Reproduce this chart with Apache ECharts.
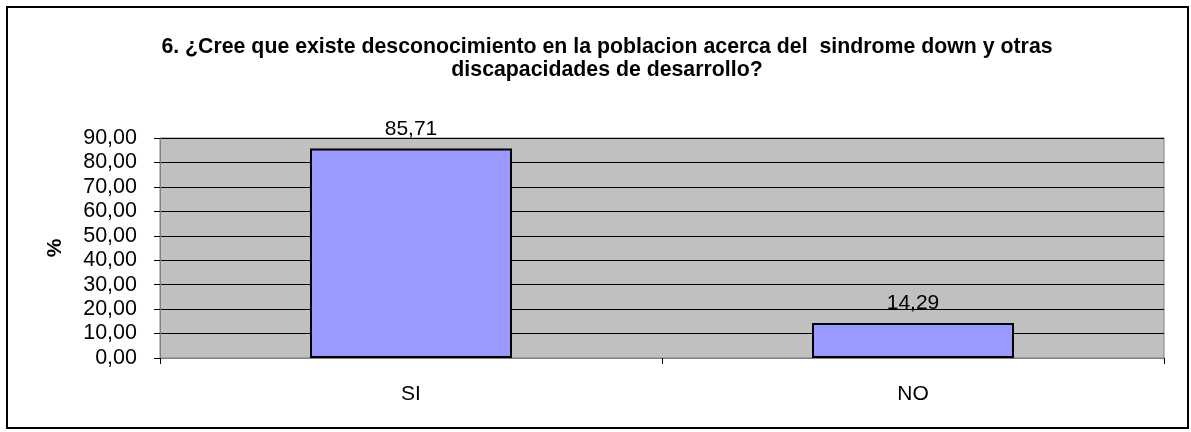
<!DOCTYPE html>
<html>
<head>
<meta charset="utf-8">
<script src="https://cdn.jsdelivr.net/npm/echarts@6/dist/echarts.min.js"></script>
<style>
  html, body { margin: 0; padding: 0; background: #fff; }
  #chart { width: 1191px; height: 432px; }
</style>
</head>
<body>
<div id="chart"></div>
<script>
// data
var categories = ["SI", "NO"];
var values = [85.71, 14.29];
var titleText = "6. ¿Cree que existe desconocimiento en la poblacion acerca del  sindrome down y otras\ndiscapacidades de desarrollo?";

function comma(v, d) {
  return v.toFixed(d).replace(".", ",");
}

var chart = echarts.init(document.getElementById("chart"));
var font = "'Liberation Sans', Arial, sans-serif";

chart.setOption({
  backgroundColor: "#fff",
  animation: false,
  textStyle: { fontFamily: font },
  title: {
    text: titleText,
    left: 602,
    textAlign: "center",
    top: 31,
    textStyle: {
      fontFamily: font,
      fontSize: 21.3,
      fontWeight: "bold",
      color: "#000",
      lineHeight: 23
    }
  },
  graphic: [{
    type: "rect",
    shape: { x: 7, y: 7, width: 1181, height: 421 },
    style: { fill: null, stroke: "#000", lineWidth: 2 },
    silent: true
  }],
  grid: {
    left: 160,
    right: 27,
    top: 138,
    bottom: 74,
    show: true,
    backgroundColor: "#C0C0C0",
    borderColor: "#808080",
    borderWidth: 1
  },
  xAxis: {
    type: "category",
    data: categories,
    axisLine: { lineStyle: { color: "#808080", width: 1 } },
    axisTick: { show: true, length: 6, lineStyle: { color: "#000" } },
    axisLabel: { color: "#000", fontSize: 21, margin: 26, fontFamily: font }
  },
  yAxis: {
    type: "value",
    min: 0,
    max: 90,
    interval: 10,
    name: "%",
    nameLocation: "middle",
    nameGap: 94,
    nameTextStyle: { fontSize: 21, fontWeight: "bold", color: "#000", fontFamily: font },
    axisLine: { show: true, lineStyle: { color: "#808080" } },
    axisTick: { show: true, length: 6, lineStyle: { color: "#000" } },
    axisLabel: {
      color: "#000",
      fontSize: 21.5,
      margin: 23,
      fontFamily: font,
      formatter: function (v) { return comma(v, 2); }
    },
    splitLine: { lineStyle: { color: "#000", width: 1 } }
  },
  series: [{
    type: "bar",
    data: values,
    barWidth: 202,
    itemStyle: { color: "#9999FF", borderColor: "#000", borderWidth: 2 },
    label: {
      show: true,
      position: "top",
      distance: 9,
      color: "#000",
      fontSize: 21,
      fontFamily: font,
      formatter: function (p) { return comma(p.value, 2); }
    }
  }]
});
</script>
</body>
</html>
